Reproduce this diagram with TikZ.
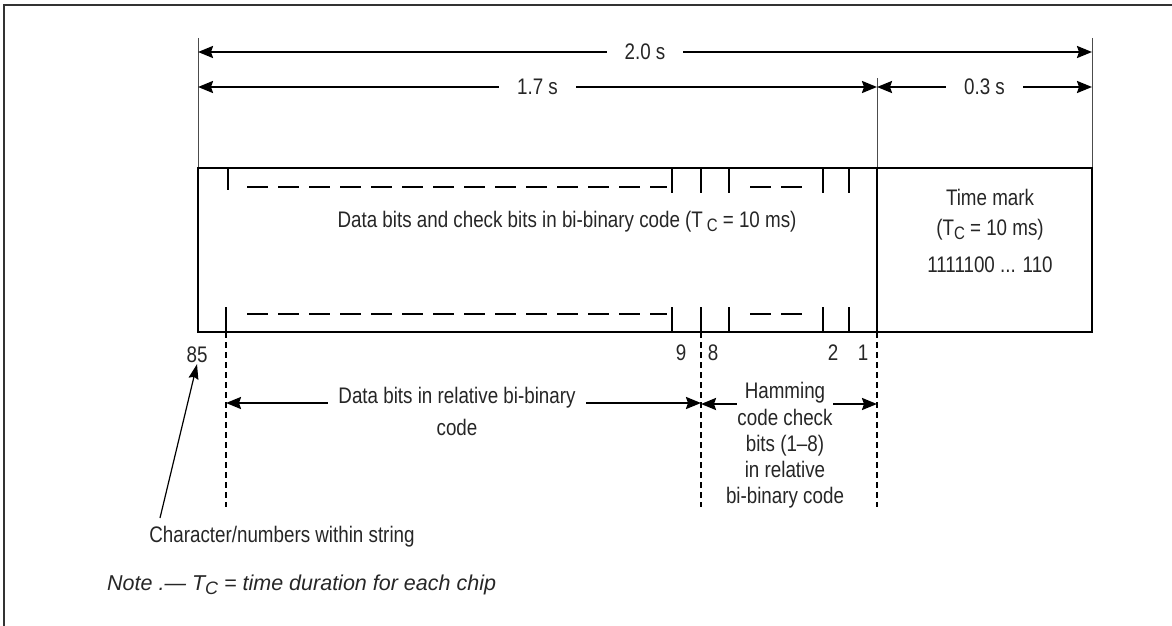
\documentclass[tikz,border=0pt]{standalone}
\usepackage{fontspec}
\setmainfont{Liberation Sans}[FakeStretch=0.835]
\newfontfamily\notefont{Liberation Sans}
\usetikzlibrary{arrows.meta,positioning}
\newcommand\subC{\raisebox{-4pt}{\fontsize{18}{18}\selectfont C}}

\begin{document}
\begin{tikzpicture}[x=1pt,y=-1pt,
  every node/.style={font=\fontsize{22.5}{26}\selectfont,text=black!85,inner sep=1pt},
  dimline/.style={{Stealth[length=15pt,width=12pt,inset=2pt]}-{Stealth[length=15pt,width=12pt,inset=2pt]},line width=2.2pt},
  cut/.style={fill=white,inner xsep=18pt},
  tick/.style={line width=1.5pt},
  chip/.style={line width=1.8pt,dash pattern=on 21pt off 10pt},
  ext/.style={line width=1.2pt,dash pattern=on 6pt off 4pt}]
\useasboundingbox (0,0) rectangle (1172,626);
\pgfmathsetmacro\xA{198}
\pgfmathsetmacro\xB{877}
\pgfmathsetmacro\xC{1092}
\pgfmathsetmacro\yT{168}
\pgfmathsetmacro\yB{332}

\draw [line width=1.5pt,black!80] (4,626) -- (4,5) -- (1172,5);%frame

% extension lines
\draw [line width=.8pt,black!70] (\xA,38) -- (\xA,\yT);
\draw [line width=.8pt,black!70] (\xC,38) -- (\xC,\yT);
\draw [line width=.8pt,black!70] (\xB,78) -- (\xB,\yT);

% durations
\coordinate (s20a) at (\xA,52);
\coordinate (s20b) at (\xC,52);
\coordinate (s17a) at (\xA,87);
\coordinate (s17b) at (\xB,87);
\coordinate (s03b) at (\xC,87);
\draw [dimline] (s20a) -- (s20b) node[midway,cut] {2.0 s};
\draw [dimline] (s17a) -- (s17b) node[midway,cut] {1.7 s};
\draw [dimline] (s17b) -- (s03b) node[midway,cut] {0.3 s};

% frame of the string
\draw [line width=1.8pt] (\xA,\yT) rectangle (\xC,\yB);
\draw [line width=1.8pt] (\xB,\yT) -- (\xB,\yB);

\foreach \x/\l in {228/22,672/25,701/25,729/25,823/25,849/25}
  \draw [tick] (\x,\yT) -- ++(0,\l);
\foreach \x in {226,672,701,729,823,849}
  \draw [tick] (\x,\yB) -- ++(0,-25);
\draw [chip] (247,187) -- (667,187);
\draw [chip] (750,187) -- (803,187);
\draw [chip] (247,314) -- (667,314);
\draw [chip] (750,314) -- (803,314);

\node (data) at (567,222) {Data bits and check bits in bi-binary code (T\,\subC{} = 10 ms)};
\node[align=center,font=\fontsize{22.5}{30}\selectfont] (tm) at (990,215) {Time mark\\(T\subC{} = 10 ms)};
\node (tmbits) at (990,265) {1111100 ... 110};

% character numbers
\node (n85) at (197,355) {85};
\node (n9) at (681,353) {9};
\node (n8) at (713,353) {8};
\node (n2) at (833,353) {2};
\node (n1) at (863,353) {1};

\coordinate (e85a) at (226,\yB);
\coordinate (e85b) at (226,507);
\coordinate (e9a) at (701,\yB);
\coordinate (e9b) at (701,507);
\coordinate (e1a) at (\xB,\yB);
\coordinate (e1b) at (\xB,507);
\draw [ext] (e85a) -- (e85b);
\draw [ext] (e9a) -- (e9b);
\draw [ext] (e1a) -- (e1b);

\draw [dimline] (226,403) coordinate (dl) -- (701,403) coordinate (dr);
\node[fill=white,inner xsep=10pt,inner ysep=5pt] (dtxt) at (457,398) {Data bits in relative bi-binary};
\node (dtxt2) at (457,427) {code};

\draw [dimline] (701,404) -- (\xB,404);
\node[fill=white,inner xsep=8pt,inner ysep=6pt] (ham) at (785,393) {Hamming};
\node[align=center,below=-2pt of ham] (ham2) {code check\\bits (1--8)\\in relative\\bi-binary code};

\node (chr) at (282,537) {Character/numbers within string};
\coordinate (chrtail) at (160,518);
\draw [line width=1.2pt,-{Stealth[length=15pt,width=10pt,inset=2pt]}] (chrtail) -- (n85.south);

\node[anchor=west,font=\notefont\fontsize{21.5}{26}\selectfont\itshape] (note) at (106,585) {Note .— T\subC{} = time duration for each chip};
\end{tikzpicture}
\end{document}
